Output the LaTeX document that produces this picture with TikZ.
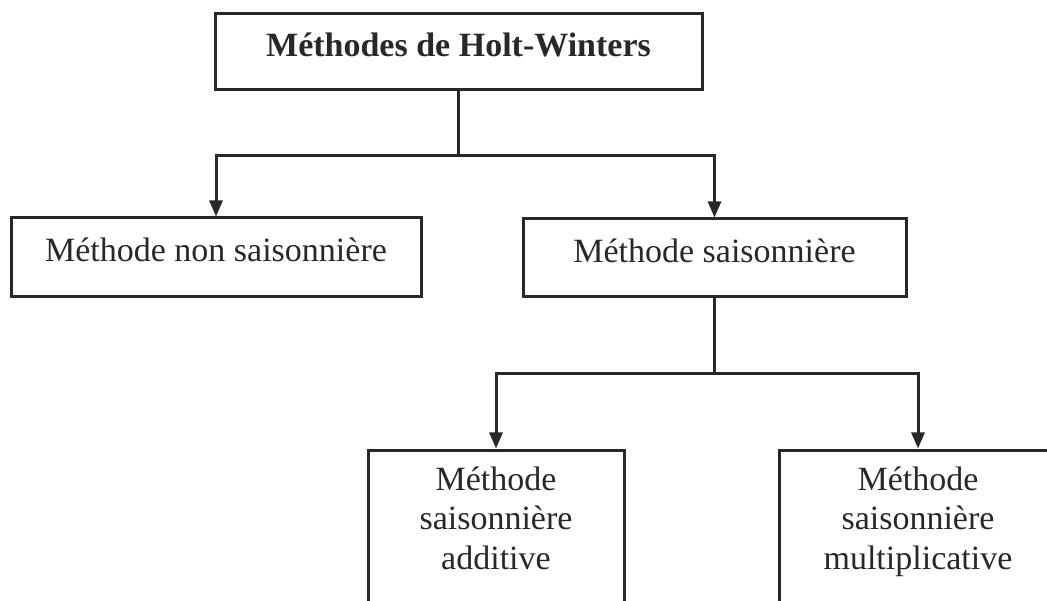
\documentclass[tikz,border=0pt]{standalone}
\usepackage{fontspec}
\setmainfont{Liberation Serif}
\usetikzlibrary{arrows.meta,calc}
\definecolor{ink}{RGB}{40,40,40}
\begin{document}
\begin{tikzpicture}[x=1pt,y=-1pt,
  box/.style={draw=ink,line width=3pt,rectangle,inner sep=0pt,
    text=ink,font=\fontsize{34}{39.5}\selectfont,align=center},
  caption/.style={inner sep=0pt,text=ink,font=\fontsize{34}{39.5}\selectfont,align=center},
  wire/.style={draw=ink,line width=3pt},
  arrow/.style={wire,-{Triangle[width=13pt,length=16pt]}}]
\useasboundingbox (0,0) rectangle (1047,601);
\clip (0,0) rectangle (1047,601);

% hierarchy boxes
\node[box,minimum width=487pt,minimum height=76pt,text height=24pt,text depth=14pt,
  font=\fontsize{34}{39.5}\selectfont\bfseries] (top) at (458.5,52) {Méthodes de Holt-Winters};
\node[box,minimum width=410pt,minimum height=79pt,text height=23pt,text depth=14pt]
  (nonsais) at (216,257.5) {Méthode non saisonnière};
\node[box,minimum width=383pt,minimum height=78pt,text height=23pt,text depth=14pt]
  (sais) at (714.5,258) {Méthode saisonnière};
\node[box,minimum width=256pt,minimum height=153pt] (add) at (496,526.5) {};
\node[box,minimum width=278pt,minimum height=153pt] (mult) at (918,526.5) {};
\node[caption,anchor=north] (addtxt) at ($(add.north)+(0,18)$)
  {Méthode\\saisonnière\\additive};
\node[caption,anchor=north] (multtxt) at ($(mult.north)+(0,18)$)
  {Méthode\\saisonnière\\multiplicative};

% branching connectors
\coordinate (j1) at ($(top.south)+(0,64)$);
\draw[wire] (top.south) -- (j1);
\draw[arrow] (j1) -| (nonsais.north);
\draw[arrow] (j1) -| (sais.north);

\coordinate (j2) at ($(sais.south)+(0,75)$);
\draw[wire] (sais.south) -- (j2);
\draw[arrow] (j2) -| (add.north);
\draw[arrow] (j2) -| (mult.north);
\end{tikzpicture}
\end{document}
